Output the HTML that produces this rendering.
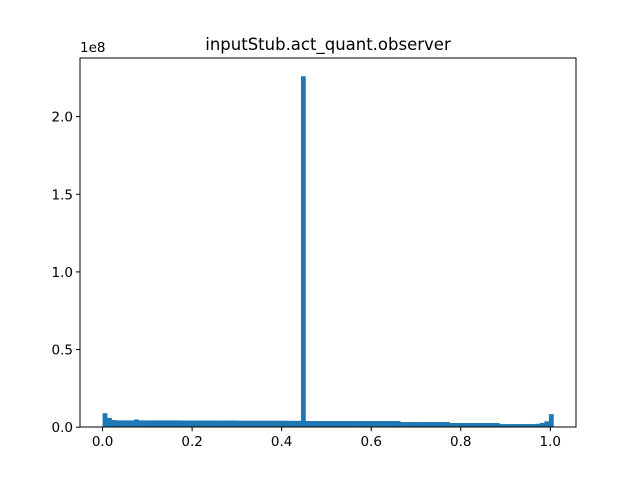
<!DOCTYPE html>
<html><head><meta charset="utf-8"><style>body{margin:0;background:#fff}svg{display:block}text{font-family:"DejaVu Sans","Liberation Sans",sans-serif}</style></head>
<body>
<svg id="chart" width="640" height="480" xmlns="http://www.w3.org/2000/svg">
<text x="328" y="50" font-size="16.5" text-anchor="middle">inputStub.act_quant.observer</text>
<text x="80" y="52" font-size="13.5">1e8</text>
<g id="bars"></g>
<rect x="80" y="58" width="496" height="369" fill="none" stroke="#000" stroke-width="1"/>
<g id="ticks"></g>
</svg>
<script>
// counts in millions, 100 bins from 0 to 1.007
const binStart = 0;
const binWidth = 0.01007;
const counts = [9,6,4.6,4.4,4.4,4.4,4.4,5,4.4,4.4,
4.4,4.4,4.4,4.4,4.4,4.4,4.4,4.3,4.3,4.3,
4.3,4.3,4.3,4.3,4.3,4.3,4.3,4.3,4.3,4.3,
4.2,4.2,4.2,4.2,4.2,4.2,4.2,4.2,4.2,4.2,
4.2,4.1,4.1,4.1,226,4.0,4.0,4.0,4.0,4.0,
4.0,4.0,4.0,4.0,4.0,4.0,4.0,4.0,4.0,4.0,
4.0,4.0,4.0,4.0,4.0,4.0,3.3,3.3,3.3,3.3,
3.3,3.3,3.3,3.3,3.3,3.3,3.3,2.7,2.7,2.7,
2.7,2.7,2.7,2.7,2.7,2.7,2.7,2.7,2.0,2.0,
2.0,2.0,2.0,2.0,2.0,2.0,2.2,2.8,3.8,8.4];
const xTicks = [0.0,0.2,0.4,0.6,0.8,1.0];
const xTickLabels = ["0.0","0.2","0.4","0.6","0.8","1.0"];
const yTicks = [0,0.5,1.0,1.5,2.0];
const yTickLabels = ["0.0","0.5","1.0","1.5","2.0"];

const X0=80,X1=576,Y0=427.2,Y1=57.6;
const xmin=-0.0504,xmax=1.0574,ymax=238;
const xs=v=>X0+(v-xmin)/(xmax-xmin)*(X1-X0);
const ys=v=>Y0-v/ymax*(Y0-Y1);
const NS="http://www.w3.org/2000/svg";
const bars=document.getElementById('bars');
counts.forEach((c,i)=>{
  const r=document.createElementNS(NS,'rect');
  const a=xs(binStart+i*binWidth),b=xs(binStart+(i+1)*binWidth);
  r.setAttribute('x',a);r.setAttribute('width',b-a+0.3);
  r.setAttribute('y',ys(c));r.setAttribute('height',Y0-ys(c));
  r.setAttribute('fill','#1f77b4');
  
  
  bars.appendChild(r);
});
const tk=document.getElementById('ticks');
xTicks.forEach((t,i)=>{
  const x=xs(t);
  const l=document.createElementNS(NS,'line');
  l.setAttribute('x1',x);l.setAttribute('x2',x);l.setAttribute('y1',Y0);l.setAttribute('y2',Y0+4);l.setAttribute('stroke','#000');
  
  
  tk.appendChild(l);
  const s=document.createElementNS(NS,'text');
  s.setAttribute('x',x);s.setAttribute('y',Y0+19);s.setAttribute('font-size','13.5');s.setAttribute('text-anchor','middle');
  s.textContent=xTickLabels[i];
  
  
  tk.appendChild(s);
});
yTicks.forEach((t,i)=>{
  const y=ys(t*100);
  const l=document.createElementNS(NS,'line');
  l.setAttribute('x1',X0-4);l.setAttribute('x2',X0);l.setAttribute('y1',y);l.setAttribute('y2',y);l.setAttribute('stroke','#000');
  
  
  tk.appendChild(l);
  const s=document.createElementNS(NS,'text');
  s.setAttribute('x',X0-7);s.setAttribute('y',y+5);s.setAttribute('font-size','13.5');s.setAttribute('text-anchor','end');
  s.textContent=yTickLabels[i];
  
  
  tk.appendChild(s);
});
</script>
</body></html>
